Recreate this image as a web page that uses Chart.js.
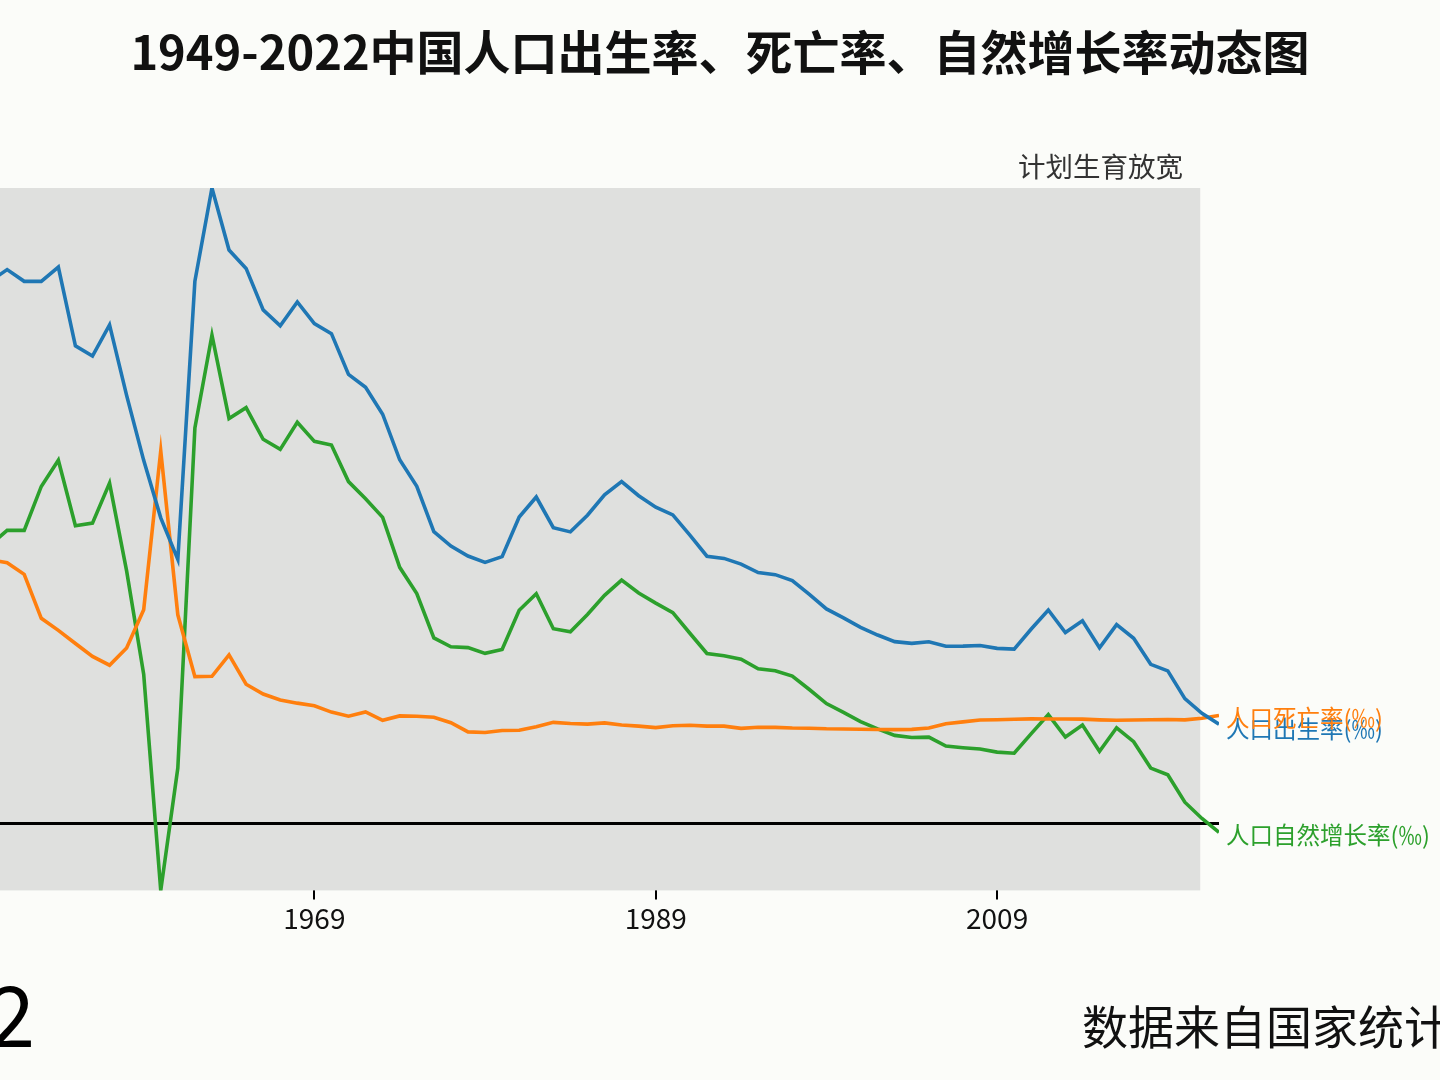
<!DOCTYPE html>
<html>
<head>
<meta charset="utf-8">
<script src="https://cdn.jsdelivr.net/npm/chart.js@4.4.0/dist/chart.umd.min.js"></script>
<style>
  html, body { margin:0; padding:0; background:#fbfcf9; overflow:hidden; width:1440px; height:1080px; }
  #caja { position:absolute; left:-27px; top:0; width:1467px; height:1080px; }
</style>
</head>
<body>
<div id="caja"><canvas id="grafico"></canvas></div>
<script>
var anios = [];
for (var a = 1949; a <= 2022; a++) anios.push(a);

// 人口出生率(‰)
var natalidad = [36.00,37.00,37.80,37.00,37.00,37.97,32.60,31.90,34.03,29.22,
  24.78,20.86,18.02,37.01,43.37,39.14,37.88,35.05,33.96,35.59,
  34.11,33.43,30.65,29.77,27.93,24.82,23.01,19.91,18.93,18.25,
  17.82,18.21,20.91,22.28,20.19,19.90,21.04,22.43,23.33,22.37,
  21.58,21.06,19.68,18.24,18.09,17.70,17.12,16.98,16.57,15.64,
  14.64,14.03,13.38,12.86,12.41,12.29,12.40,12.09,12.10,12.14,
  11.95,11.90,13.27,14.57,13.03,13.83,11.99,13.57,12.64,10.86,
  10.41,8.52,7.52,6.77];

// 人口死亡率(‰)
var mortalidad = [20.00,18.00,17.80,17.00,14.00,13.18,12.28,11.40,10.80,11.98,
  14.59,25.43,14.24,10.02,10.04,11.50,9.50,8.83,8.43,8.21,
  8.03,7.60,7.32,7.61,7.04,7.34,7.32,7.25,6.87,6.25,
  6.21,6.34,6.36,6.60,6.90,6.82,6.78,6.86,6.72,6.64,
  6.54,6.67,6.70,6.64,6.64,6.49,6.57,6.56,6.51,6.50,
  6.46,6.45,6.43,6.41,6.40,6.42,6.51,6.81,6.93,7.06,
  7.08,7.11,7.14,7.13,7.13,7.12,7.07,7.04,7.06,7.08,
  7.09,7.07,7.18,7.37];

// 人口自然增长率(‰)
var crecimiento = [16.00,19.00,20.00,20.00,23.00,24.79,20.32,20.50,23.23,17.24,
  10.19,-4.57,3.78,26.99,33.33,27.64,28.38,26.22,25.53,27.38,
  26.08,25.83,23.33,22.16,20.89,17.48,15.69,12.66,12.06,12.00,
  11.61,11.87,14.55,15.68,13.29,13.08,14.26,15.57,16.61,15.73,
  15.04,14.39,12.98,11.60,11.45,11.21,10.55,10.42,10.06,9.14,
  8.18,7.58,6.95,6.45,6.01,5.87,5.89,5.28,5.17,5.08,
  4.87,4.79,6.13,7.43,5.90,6.71,4.93,6.53,5.58,3.78,
  3.32,1.45,0.34,-0.60];

var series = ['人口出生率(‰)','人口死亡率(‰)','人口自然增长率(‰)'];
var colores = ['#1f77b4','#ff7f0e','#2ca02c'];
var ticksX = [1969,1989,2009];
var finPanel = 2020.9;

var titulo = '1949-2022中国人口出生率、死亡率、自然增长率动态图';
var nota = '计划生育放宽';
var anioActual = '2022';
var fuente = '数据来自国家统计局';

var fuenteCJK = '"Noto Sans CJK SC", "Noto Sans", sans-serif';
var dx = 27; // desplazamiento del canvas

function puntos(valores){
  var r = [];
  for (var i = 0; i < anios.length; i++) r.push({x: anios[i], y: valores[i]});
  return r;
}

var todos = natalidad.concat(mortalidad).concat(crecimiento);
var yMin = Math.min.apply(null, todos);
var yMax = Math.max.apply(null, todos);

var fondoPanel = {
  id: 'fondoPanel',
  beforeDatasetsDraw: function(chart){
    var ctx = chart.ctx, ca = chart.chartArea;
    var x = chart.scales.x, y = chart.scales.y;
    ctx.save();
    ctx.fillStyle = '#dfe0de';
    ctx.fillRect(ca.left, ca.top, x.getPixelForValue(finPanel) - ca.left, ca.bottom - ca.top);
    // linea cero
    ctx.strokeStyle = '#000';
    ctx.lineWidth = 3;
    ctx.beginPath();
    ctx.moveTo(ca.left, y.getPixelForValue(0));
    ctx.lineTo(ca.right, y.getPixelForValue(0));
    ctx.stroke();
    ctx.restore();
  }
};

var textos = {
  id: 'textos',
  afterDraw: function(chart){
    var ctx = chart.ctx;
    var x = chart.scales.x, y = chart.scales.y;
    ctx.save();
    ctx.textBaseline = 'middle';

    ctx.fillStyle = '#111';
    ctx.textAlign = 'center';
    ctx.font = 'bold 47px ' + fuenteCJK;
    ctx.fillText(titulo, 720 + dx, 52);

    ctx.fillStyle = '#333';
    ctx.textAlign = 'right';
    ctx.font = '27.5px ' + fuenteCJK;
    ctx.fillText(nota, 1183 + dx, 167);

    // etiquetas al final de cada linea
    var datos = [natalidad, mortalidad, crecimiento];
    var ajuste = [5, 3, 3];
    ctx.textAlign = 'left';
    ctx.font = '23.5px ' + fuenteCJK;
    for (var i = 0; i < series.length; i++) {
      var ult = datos[i][datos[i].length - 1];
      ctx.fillStyle = colores[i];
      ctx.fillText(series[i], x.getPixelForValue(anios[anios.length - 1]) + 7, y.getPixelForValue(ult) + ajuste[i]);
    }

    ctx.fillStyle = '#000';
    ctx.textAlign = 'right';
    ctx.font = '84px ' + fuenteCJK;
    ctx.fillText(anioActual, 35 + dx, 1015);

    ctx.fillStyle = '#111';
    ctx.textAlign = 'left';
    ctx.font = '46px ' + fuenteCJK;
    ctx.fillText(fuente, 1082 + dx, 1027);
    ctx.restore();
  }
};

var conjuntos = [];
var valores = [natalidad, mortalidad, crecimiento];
for (var i = 0; i < series.length; i++) {
  conjuntos.push({
    label: series[i],
    data: puntos(valores[i]),
    borderColor: colores[i],
    backgroundColor: colores[i],
    borderWidth: 3.6,
    pointRadius: 0,
    tension: 0,
    fill: false
  });
}

var ctx = document.getElementById('grafico');
var miGrafico = new Chart(ctx, {
  type: 'line',
  data: { datasets: conjuntos },
  options: {
    responsive: true,
    maintainAspectRatio: false,
    animation: false,
    layout: { padding: { left: 0, right: 221, top: 188, bottom: 143 } },
    plugins: { legend: { display: false }, tooltip: { enabled: false } },
    scales: {
      x: {
        type: 'linear',
        min: anios[0],
        max: anios[anios.length - 1],
        afterBuildTicks: function(scale){
          scale.ticks = ticksX.map(function(v){ return {value: v}; });
        },
        grid: { drawOnChartArea: false, drawTicks: true, tickLength: 9, color: '#000', lineWidth: 2 },
        border: { display: false },
        ticks: {
          color: '#111',
          padding: 2,
          font: { size: 28, family: fuenteCJK },
          maxRotation: 0,
          callback: function(v){ return String(v); }
        }
      },
      y: {
        display: false,
        min: yMin,
        max: yMax
      }
    }
  },
  plugins: [fondoPanel, textos]
});
</script>
</body>
</html>
